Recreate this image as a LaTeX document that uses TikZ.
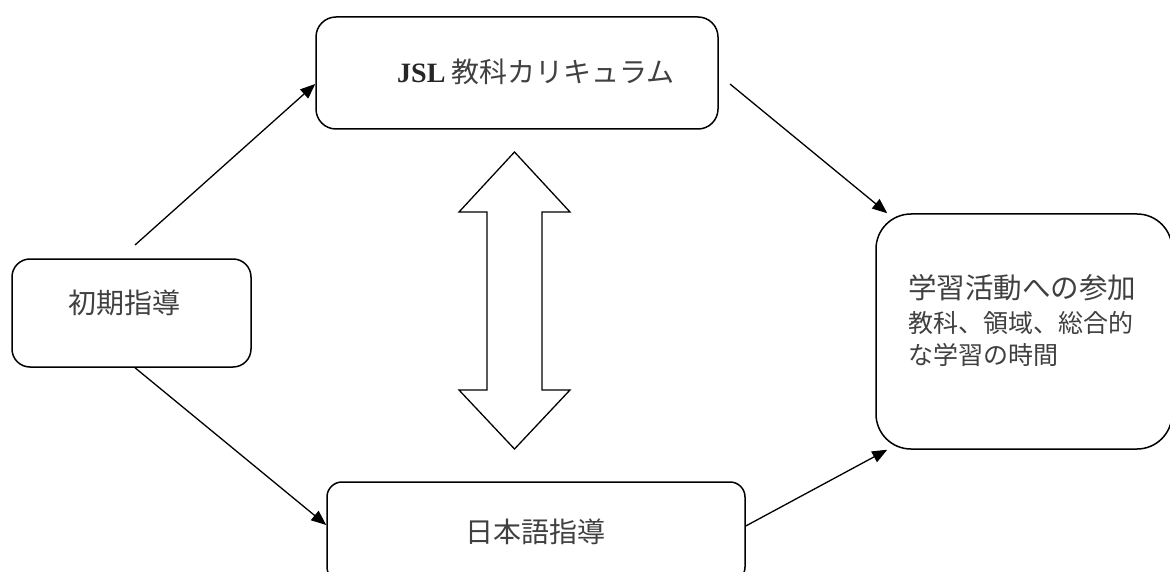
\documentclass[tikz,border=0pt]{standalone}
\usepackage{fontspec}
\newfontfamily\jp{Noto Sans CJK JP}
\newfontfamily\serif{Liberation Serif}
\usetikzlibrary{arrows.meta}
\begin{document}
\begin{tikzpicture}[x=1pt,y=-1pt,
  box/.style={draw=black,line width=1.5pt,fill=white,inner sep=0pt},
  arr/.style={draw=black,line width=1.3pt,-{Triangle[length=15pt,width=12pt]}},
  lbl/.style={text=black!75,font=\jp\fontsize{28}{32}\selectfont,inner sep=0pt}
]
\useasboundingbox (0,0) rectangle (1170,572);
\clip (0,0) rectangle (1170,572);
\fill[white] (0,0) rectangle (1170,572);

\node[box,rounded corners=20pt,minimum width=402pt,minimum height=112pt] (jsl) at (517,73) {};
\node[lbl,anchor=west] (jsltext) at (397,72) {{\serif\bfseries\color{black!85}\fontsize{28}{30}\selectfont JSL} 教科カリキュラム};

\node[box,rounded corners=18pt,minimum width=239pt,minimum height=108pt] (init) at (131.5,313) {};
\node[lbl] (inittext) at (124,303) {初期指導};

\node[box,rounded corners=35pt,minimum width=296pt,minimum height=235pt] (part) at (1024,331.5) {};
\node[lbl,anchor=north west,align=left] (parttext) at (908,274) {{\fontsize{28.5}{40}\selectfont 学習活動への参加}\\[2pt]{\fontsize{25}{32}\selectfont 教科、領域、総合的}\\{\fontsize{25}{32}\selectfont な学習の時間}};

\node[box,rounded corners=15pt,minimum width=418pt,minimum height=100pt] (nihongo) at (536,532) {};
\node[lbl] (nihongotext) at (535,532) {日本語指導};

% double arrow
\draw[line width=1.3pt,fill=white,line join=miter]
  (514.5,152) -- (570,212) -- (542,212) -- (542,390) -- (570,390) -- (514.5,449)
  -- (459,390) -- (487,390) -- (487,212) -- (459,212) -- cycle;

\coordinate (s1) at (135,245);
\coordinate (s2) at (730,84);
\draw[arr] (s1) -- ([yshift=-11pt]jsl.west);
\draw[arr] (s2) -- ([xshift=12pt]part.north west);
\draw[arr] ([xshift=3.5pt]init.south) -- ([yshift=7pt]nihongo.west);
\draw[arr] ([yshift=6pt]nihongo.east) -- ([xshift=12pt]part.south west);
\end{tikzpicture}
\end{document}
